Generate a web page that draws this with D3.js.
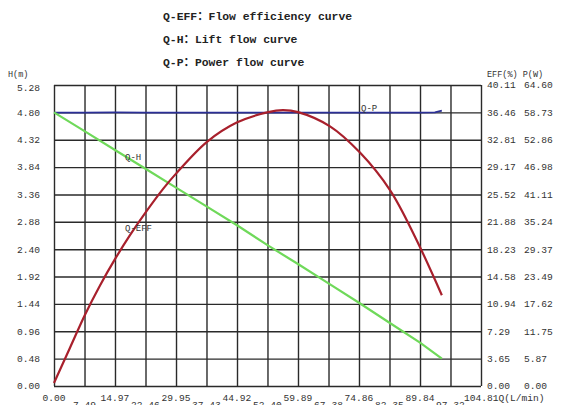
<!DOCTYPE html>
<html><head><meta charset="utf-8">
<script src="https://cdn.jsdelivr.net/npm/d3@7"></script>
<style>
html,body{margin:0;padding:0;background:#fff;}
svg{display:block;}
text{font-family:"Liberation Mono","DejaVu Sans Mono","Noto Sans CJK SC",monospace;}
</style></head>
<body>
<svg id="c" width="568" height="405"></svg>
<script>
// ---- data ----
const titleLines = ["Q-EFF：Flow efficiency curve", "Q-H：Lift flow curve", "Q-P：Power flow curve"];
const xTickLabels = ["0.00","7.49","14.97","22.46","29.95","37.43","44.92","52.40","59.89","67.38","74.86","82.35","89.84","97.32","104.81"];
const hTickLabels = ["0.00","0.48","0.96","1.44","1.92","2.40","2.88","3.36","3.84","4.32","4.80","5.28"];
const effTickLabels = ["0.00","3.65","7.29","10.94","14.58","18.23","21.88","25.52","29.17","32.81","36.46","40.11"];
const pTickLabels = ["0.00","5.87","11.75","17.62","23.49","29.37","35.24","41.11","46.98","52.86","58.73","64.60"];

// Q-H (lift) curve
const qH = [0, 7.49, 14.97, 22.46, 29.95, 37.43, 44.92, 52.40, 59.89, 67.38, 74.86, 82.35, 89.84, 95.2];
const hVals = [4.80, 4.47, 4.14, 3.81, 3.48, 3.15, 2.82, 2.47, 2.14, 1.80, 1.46, 1.11, 0.76, 0.48];
// Q-EFF curve
const qEff = [0, 3.93, 7.61, 11.29, 14.97, 18.65, 22.58, 26.83, 29.95, 37.48, 44.85, 52.6, 56.2, 59.89, 67.75, 75.1, 82.47, 88.6, 95.2];
const effVals = [0.4, 5.1, 9.5, 13.4, 16.9, 20.1, 23.2, 26.3, 28.3, 32.5, 35.1, 36.5, 36.75, 36.5, 34.6, 31.1, 26.1, 19.9, 12.1];
// Q-P curve
const qP = [0, 7.49, 14.97, 22.46, 29.95, 37.43, 44.92, 52.40, 59.89, 67.38, 74.86, 82.35, 89.84, 93.5, 95.2];
const pVals = [58.67, 58.67, 58.72, 58.67, 58.67, 58.67, 58.67, 58.67, 58.67, 58.67, 58.67, 58.67, 58.67, 58.72, 59.1];

// ---- layout ----
const L = 54, R = 481, T = 85, B = 386;
const svg = d3.select("#c");
const x = d3.scaleLinear().domain([0, 104.81]).range([L, R]);
const yH = d3.scaleLinear().domain([0, 5.28]).range([B, T]);
const yE = d3.scaleLinear().domain([0, 40.11]).range([B, T]);
const yP = d3.scaleLinear().domain([0, 64.60]).range([B, T]);

// titles
svg.selectAll("text.title").data(titleLines).enter().append("text")
  .attr("class","title").attr("x",163).attr("y",(d,i)=>20+i*23)
  .attr("font-size","11.4px").attr("font-weight","bold").attr("fill","#222").text(d=>d);

// grid via axes
const xVals = xTickLabels.map(Number);
const gx = svg.append("g").attr("transform",`translate(0,${B})`)
  .call(d3.axisBottom(x).tickValues(xVals).tickSize(-(B-T)).tickFormat(""));
const hVals2 = hTickLabels.map(Number);
const gy = svg.append("g").attr("transform",`translate(${L},0)`)
  .call(d3.axisLeft(yH).tickValues(hVals2).tickSize(-(R-L)).tickFormat(""));
[gx, gy].forEach(g => {
  g.select(".domain").remove();
  g.selectAll("line").attr("stroke","#2a2a2a").attr("stroke-width",1.4);
});

// left labels
const lab = svg.append("g").attr("font-size","9.6px").attr("fill","#333");
hTickLabels.forEach((t,i)=>{
  let yy = yH(+t);
  if (i===hTickLabels.length-1) yy += 3;
  lab.append("text").attr("x",40).attr("y",yy).attr("dy","0.35em").attr("text-anchor","end").text(t);
});
lab.append("text").attr("x",8).attr("y",77).attr("font-size","8.5px").text("H(m)");
// right labels
effTickLabels.forEach((t,i)=>{
  lab.append("text").attr("x",487).attr("y",yE(+t)).attr("dy","0.35em").text(t);
});
pTickLabels.forEach((t,i)=>{
  lab.append("text").attr("x",524).attr("y",yP(+t)).attr("dy","0.35em").text(t);
});
lab.append("text").attr("x",487).attr("y",77).attr("font-size","8.5px").text("EFF(%) P(W)");
// x labels
xTickLabels.forEach((t,i)=>{
  const last = i===xTickLabels.length-1;
  const tx = lab.append("text").attr("y", i%2===0 ? 401 : 408);
  if (last) {
    tx.attr("x", x(+t) - 17).text(t + "Q(L/min)");
  } else {
    tx.attr("x", x(+t)).attr("text-anchor","middle").text(t);
  }
});

// curves
const lineH = d3.line().x((d,i)=>x(qH[i])).y(d=>yH(d));
const lineE = d3.line().x((d,i)=>x(qEff[i])).y(d=>yE(d)).curve(d3.curveCatmullRom);
const lineP = d3.line().x((d,i)=>x(qP[i])).y(d=>yP(d));
svg.append("path").datum(pVals).attr("d",lineP).attr("fill","none").attr("stroke","#2b2f96").attr("stroke-width",1.8);
svg.append("path").datum(hVals).attr("d",lineH).attr("fill","none").attr("stroke","#6fd95a").attr("stroke-width",2.2);
svg.append("path").datum(effVals).attr("d",lineE).attr("fill","none").attr("stroke","#a8202c").attr("stroke-width",2.2);

// curve labels
const cl = svg.append("g").attr("font-size","9px").attr("fill","#333");
cl.append("text").attr("x",361).attr("y",111).text("Q-P");
cl.append("text").attr("x",125).attr("y",160).text("Q-H");
cl.append("text").attr("x",125).attr("y",231).text("Q-EFF");
</script>
</body></html>
